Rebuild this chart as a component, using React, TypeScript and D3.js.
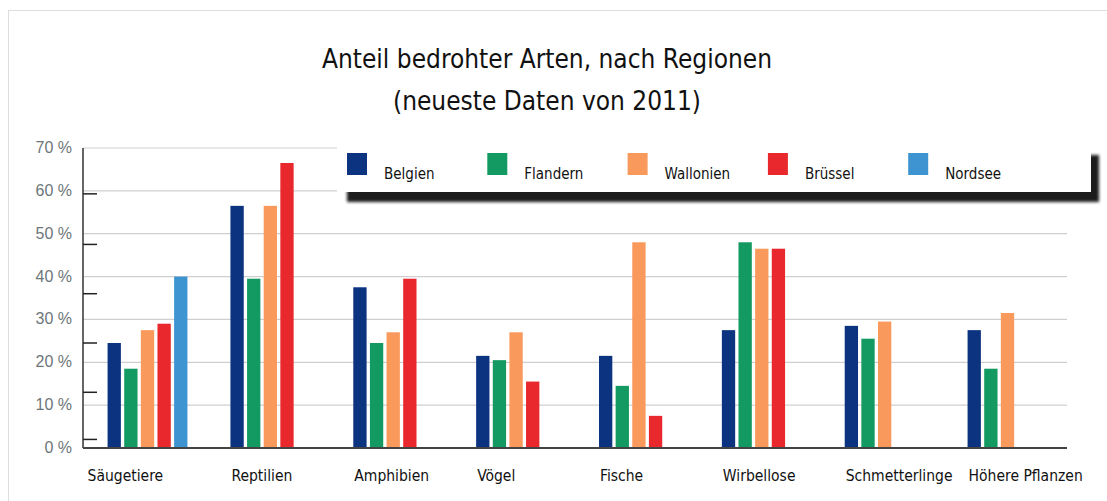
import React, { useRef, useEffect } from 'react';
import * as d3 from 'd3';

const categories = ["Säugetiere", "Reptilien", "Amphibien", "Vögel", "Fische", "Wirbellose", "Schmetterlinge", "Höhere Pflanzen"];
const seriesNames = ["Belgien", "Flandern", "Wallonien", "Brüssel", "Nordsee"];
const belgien = [24.5, 56.5, 37.5, 21.5, 21.5, 27.5, 28.5, 27.5];
const flandern = [18.5, 39.5, 24.5, 20.5, 14.5, 48, 25.5, 18.5];
const wallonien = [27.5, 56.5, 27, 27, 48, 46.5, 29.5, 31.5];
const bruessel = [29, 66.5, 39.5, 15.5, 7.5, 46.5, null, null];
const nordsee = [40, null, null, null, null, null, null, null];
const yTicks = [0, 10, 20, 30, 40, 50, 60, 70];
// short black ticks left over on the axis (they don't line up with the grid)
const oddTicks = [2, 13, 24.5, 36, 47.5, 59.3];

const colors = ["#0b3380", "#139a62", "#f9995c", "#e8282d", "#3e94d0"];

const W = 1107;
const H = 501;

const App: React.FC = () => {
    const svgRef = useRef<SVGSVGElement>(null);

    useEffect(() => {
        if (!svgRef.current) return;
        const svg = d3.select(svgRef.current);
        svg.selectAll("*").remove();

        const plotLeft = 83;
        const plotRight = 1067;
        const font = "'DejaVu Sans Condensed', 'DejaVu Sans', sans-serif";
        const values = [belgien, flandern, wallonien, bruessel, nordsee];

        // frame
        svg.append("rect")
            .attr("x", 8.5).attr("y", 10.5)
            .attr("width", W).attr("height", H)
            .attr("fill", "white")
            .attr("stroke", "#dedede");

        const x = d3.scaleBand<string>()
            .domain(categories)
            .range([plotLeft, plotRight + 5])
            .paddingInner(0.35)
            .paddingOuter(0.2);

        const xInner = d3.scaleBand<string>()
            .domain(seriesNames)
            .range([0, x.bandwidth()])
            .paddingInner(0.2);

        const y = d3.scaleLinear().domain([0, 70]).range([448, 148]);

        // title
        const title = svg.append("text")
            .attr("x", 547)
            .attr("text-anchor", "middle")
            .attr("font-family", font)
            .attr("font-size", 26)
            .attr("fill", "#111");
        title.append("tspan").attr("x", 547).attr("y", 68).text("Anteil bedrohter Arten, nach Regionen");
        title.append("tspan").attr("x", 547).attr("y", 110).text("(neueste Daten von 2011)");

        // grid
        svg.append("g")
            .selectAll("line")
            .data(yTicks.filter(d => d > 0))
            .enter()
            .append("line")
            .attr("x1", plotLeft)
            .attr("x2", plotRight)
            .attr("y1", d => y(d))
            .attr("y2", d => y(d))
            .attr("stroke", "#cfcfcf")
            .attr("stroke-width", 1.2);

        // y labels
        svg.append("g")
            .selectAll("text")
            .data(yTicks)
            .enter()
            .append("text")
            .attr("x", 72)
            .attr("y", d => y(d) + 5)
            .attr("text-anchor", "end")
            .attr("font-family", "'Liberation Sans', Arial, sans-serif")
            .attr("font-size", 16)
            .attr("fill", "#6d7679")
            .text(d => `${d} %`);

        // bars
        const groups = svg.append("g")
            .selectAll("g")
            .data(categories)
            .enter()
            .append("g")
            .attr("transform", d => `translate(${x(d)},0)`);

        groups.selectAll("rect")
            .data((_, i) => seriesNames.map((s, k) => ({ s, k, v: values[k][i] })).filter(d => d.v != null))
            .enter()
            .append("rect")
            .attr("x", d => xInner(d.s)!)
            .attr("y", d => y(d.v as number))
            .attr("width", xInner.bandwidth())
            .attr("height", d => y(0) - y(d.v as number))
            .attr("fill", d => colors[d.k]);

        // axes
        svg.append("line")
            .attr("x1", plotLeft).attr("x2", plotLeft)
            .attr("y1", y(70)).attr("y2", y(0))
            .attr("stroke", "#333").attr("stroke-width", 1.5);

        svg.append("g")
            .selectAll("line")
            .data(oddTicks)
            .enter()
            .append("line")
            .attr("x1", plotLeft).attr("x2", plotLeft + 14)
            .attr("y1", d => y(d)).attr("y2", d => y(d))
            .attr("stroke", "#222").attr("stroke-width", 1.5);

        svg.append("line")
            .attr("x1", plotLeft).attr("x2", plotRight)
            .attr("y1", y(0)).attr("y2", y(0))
            .attr("stroke", "#444").attr("stroke-width", 2);

        // category labels
        svg.append("g")
            .selectAll("text")
            .data(categories)
            .enter()
            .append("text")
            .attr("x", (d, i) => (i === 0 ? x(d)! - 20 : x(d)! + 1))
            .attr("y", 481)
            .attr("font-family", font)
            .attr("font-size", 15.5)
            .attr("fill", "#111")
            .text(d => d);

        // legend
        const defs = svg.append("defs");
        defs.append("filter")
            .attr("id", "blur")
            .attr("x", "-5%").attr("y", "-50%")
            .attr("width", "110%").attr("height", "200%")
            .append("feGaussianBlur")
            .attr("stdDeviation", 1.8);

        const lg = svg.append("g");
        lg.append("rect")
            .attr("x", 347).attr("y", 155)
            .attr("width", 752).attr("height", 47)
            .attr("fill", "#1e1e1e")
            .attr("filter", "url(#blur)");
        lg.append("rect")
            .attr("x", 337).attr("y", 145)
            .attr("width", 754).attr("height", 47)
            .attr("fill", "white");

        const items = lg.selectAll("g.item")
            .data(seriesNames)
            .enter()
            .append("g")
            .attr("class", "item")
            .attr("transform", (_, i) => `translate(${347 + i * 140.3},0)`);

        items.append("rect")
            .attr("x", 0).attr("y", 153)
            .attr("width", 20).attr("height", 22)
            .attr("fill", (_, i) => colors[i]);

        items.append("text")
            .attr("x", 37).attr("y", 179)
            .attr("font-family", font)
            .attr("font-size", 15)
            .attr("fill", "#111")
            .text(d => d);
    }, []);

    return (
        <svg
            ref={svgRef}
            width={W}
            height={H}
            style={{ position: 'absolute', left: 0, top: 0, background: 'white' }}
        />
    );
};

export default App;
